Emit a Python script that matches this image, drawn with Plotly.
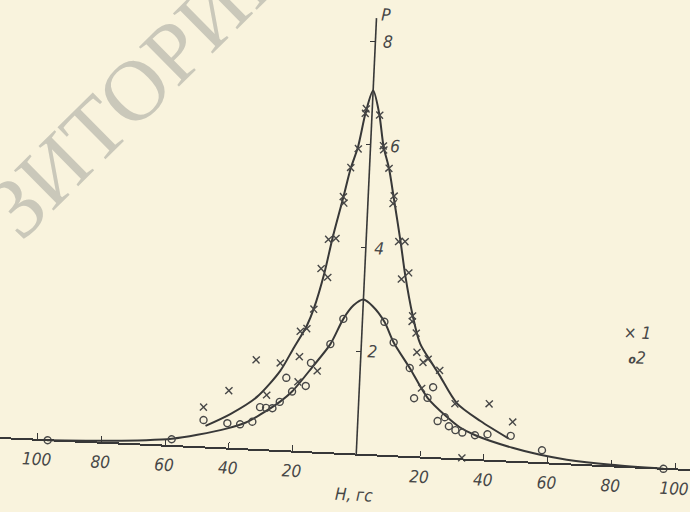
import plotly.graph_objects as go

# ---------------- data ----------------
# series 1 (crosses): field H (гс, signed) and P
cross_H = [-1.9, -2.1, -3.8, -5.9, -7.8, -7.5, -11.8, -9.5, -13.7, -11.5, -15.4,
           -19.3, -17.3, -32.7, -25.1, -19.2, -13.4, -40.8, -28.9, -19.3, -48.5,
           2.4, 4.0, 4.2, 6.1, 8.1, 7.9, 10.2, 12.2, 13.8, 11.6, 15.6, 15.6,
           17.0, 17.5, 19.6, 21.1, 24.9, 19.5, 30.2, 40.9, 48.5, 33.1]
cross_P = [6.69, 6.60, 5.91, 5.54, 4.97, 4.85, 4.13, 4.16, 3.56, 3.40, 2.77,
           2.33, 2.39, 1.74, 1.70, 1.84, 1.58, 1.12, 1.07, 1.35, 0.78,
           6.58, 5.99, 5.91, 5.56, 5.03, 4.88, 4.15, 4.16, 3.56, 3.43, 2.73, 2.62,
           2.40, 2.03, 1.84, 1.91, 1.70, 1.34, 1.07, 1.10, 0.77, 0.03]

# series 2 (circles)
circle_H = [-96.8, -58.0, -48.3, -40.8, -36.8, -33.0, -30.8, -28.9, -26.9, -24.7,
            -23.0, -21.0, -16.8, -15.5, -9.7, -6.0,
            6.9, 10.1, 15.5, 17.3, 21.5, 23.1, 25.0, 27.2, 28.6, 30.7, 32.9,
            36.9, 40.8, 48.1, 58.1, 96.4]
circle_P = [0.0, 0.13, 0.53, 0.49, 0.48, 0.54, 0.83, 0.82, 0.82, 0.95,
            1.42, 1.16, 1.28, 1.73, 2.11, 2.61,
            2.59, 2.20, 1.72, 1.14, 1.16, 1.37, 0.72, 0.80, 0.63, 0.56, 0.52,
            0.48, 0.51, 0.50, 0.25, 0.0]

# drawn curve 1 (through the crosses)
curve1_H = [-47.6, -40.0, -32.0, -25.0, -21.4, -17.3, -15.4, -12.6, -10.6, -7.7,
            -5.9, -3.9, -2.0, 0.0, 2.2, 4.1, 6.1, 8.0, 10.8, 12.7, 15.6, 18.4,
            22.4, 25.0, 30.8, 38.4, 47.4]
curve1_P = [0.42, 0.67, 1.02, 1.55, 1.97, 2.45, 2.78, 3.48, 4.15, 4.98,
            5.52, 5.95, 6.62, 7.05, 6.62, 5.97, 5.56, 5.00, 4.15, 3.52, 2.75, 2.20,
            1.83, 1.60, 1.08, 0.76, 0.45]

# drawn curve 2 (through the circles)
curve2_H = [-97.0, -80.0, -66.0, -58.0, -50.0, -40.7, -35.0, -30.8, -24.7, -21.0,
            -14.9, -9.7, -6.0, -3.0, 0.0, 3.0, 6.9, 10.1, 15.5, 21.5, 27.8, 32.0,
            37.0, 48.8, 57.6, 66.0, 80.0, 96.4]
curve2_P = [0.0, 0.04, 0.09, 0.14, 0.24, 0.39, 0.52, 0.68, 0.95, 1.16,
            1.66, 2.11, 2.61, 2.88, 3.00, 2.88, 2.59, 2.20, 1.72, 1.16, 0.81, 0.62,
            0.48, 0.27, 0.16, 0.09, 0.03, 0.0]

x_tick_vals = [-100, -80, -60, -40, -20, 20, 40, 60, 80, 100]
x_tick_text = ["100", "80", "60", "40", "20", "20", "40", "60", "80", "100"]
y_tick_vals = [2, 4, 6, 8]
y_tick_text = ["2", "4", "6", "8"]
series_names = ["1", "2"]

# ---------------- styling ----------------
BG = "#F9F3DD"
INK = "#383838"
MARK = "#474747"
TXT = "#474747"
FAM = "Liberation Sans Narrow, DejaVu Sans Condensed, Liberation Sans, sans-serif"
FONT = dict(family=FAM, size=17, color=TXT, style="italic")

# the figure is a little larger than the window, so the slight tilt of the
# scanned page (applied below) leaves no empty corners
FIG_W, FIG_H = 760, 580
OFF_X, OFF_Y = 35, 34
X_RANGE = [-125.5, 112.7]
Y_RANGE = [-1.783, 9.435]
P_AXIS_TOP = 8.45
TILT_DEG = 2.66

fig = go.Figure()

fig.add_trace(go.Scatter(x=curve2_H, y=curve2_P, mode="lines",
                         line=dict(color=INK, width=2, shape="spline", smoothing=0.8),
                         showlegend=False, hoverinfo="skip"))
fig.add_trace(go.Scatter(x=curve1_H, y=curve1_P, mode="lines",
                         line=dict(color=INK, width=2, shape="spline", smoothing=0.8),
                         showlegend=False, hoverinfo="skip"))
fig.add_trace(go.Scatter(x=cross_H, y=cross_P, mode="markers", name=series_names[0],
                         marker=dict(symbol="x-thin-open", size=7, color=MARK,
                                     line=dict(width=1.4, color=MARK)),
                         showlegend=False))
fig.add_trace(go.Scatter(x=circle_H, y=circle_P, mode="markers", name=series_names[1],
                         marker=dict(symbol="circle-open", size=7, color=MARK,
                                     line=dict(width=1.4, color=MARK)),
                         showlegend=False))

# vertical P axis line (from the H axis up)
fig.add_shape(type="line", xref="x", yref="y", x0=0, x1=0, y0=0, y1=P_AXIS_TOP,
              line=dict(color=INK, width=1.6), layer="below")

annotations = []
# P tick labels, to the right of the axis
y_label_shift = [11.5, 13.5, 25.0, 12.5]
for v, t, s in zip(y_tick_vals, y_tick_text, y_label_shift):
    annotations.append(dict(x=0, y=v, xref="x", yref="y", text=t, showarrow=False,
                            xshift=s, font=FONT, xanchor="center", yanchor="middle"))
annotations.append(dict(x=0, y=8.52, xref="x", yref="y", text="P", showarrow=False,
                        xshift=10, font=FONT, xanchor="center", yanchor="middle"))
annotations.append(dict(x=0, y=0, xref="x", yref="y", text="H, гс", showarrow=False,
                        yshift=-40, font=FONT, xanchor="center", yanchor="middle"))
# legend keys
annotations.append(dict(x=86.1, y=2.60, xref="x", yref="y",
                        text="× " + series_names[0], showarrow=False, font=FONT,
                        xanchor="center", yanchor="middle"))
annotations.append(dict(x=86.5, y=2.12, xref="x", yref="y",
                        text="<span style='font-size:12px'><b>o</b></span>" + series_names[1],
                        showarrow=False, font=FONT,
                        xanchor="center", yanchor="middle"))
# repository watermark
annotations.append(dict(x=-73.0, y=6.95, xref="x", yref="y",
                        text="ЗИТОРИЙ", showarrow=False, textangle=-47.3,
                        font=dict(family="Liberation Serif, DejaVu Serif, serif",
                                  size=86, color="#CAC8BA"),
                        xanchor="center", yanchor="middle"))

fig.update_layout(
    width=FIG_W, height=FIG_H,
    margin=dict(l=0, r=0, t=0, b=0, pad=0),
    paper_bgcolor=BG, plot_bgcolor=BG,
    showlegend=False,
    annotations=annotations,
    xaxis=dict(range=X_RANGE, anchor="free",
               position=(0 - Y_RANGE[0]) / (Y_RANGE[1] - Y_RANGE[0]),
               showline=True, linecolor=INK, linewidth=1.6,
               ticks="inside", ticklen=6, tickwidth=1.2, tickcolor=INK,
               tickvals=x_tick_vals, ticktext=x_tick_text, tickfont=FONT,
               ticklabelstandoff=4, ticklabeloverflow="allow",
               showgrid=False, zeroline=False, fixedrange=True),
    yaxis=dict(range=Y_RANGE, anchor="free",
               position=(0 - X_RANGE[0]) / (X_RANGE[1] - X_RANGE[0]),
               side="left", showline=False,
               ticks="outside", ticklen=5, tickwidth=1.2, tickcolor=INK,
               tickvals=y_tick_vals, showticklabels=False,
               showgrid=False, zeroline=False, fixedrange=True),
)

post_script = """
var gd = document.getElementById('{plot_id}');
document.documentElement.style.background = '%s';
document.body.style.background = '%s';
document.body.style.margin = '0';
document.body.style.overflow = 'hidden';
gd.style.position = 'relative';
gd.style.left = '-%dpx';
gd.style.top = '-%dpx';
gd.style.transformOrigin = '50%% 50%%';
gd.style.transform = 'rotate(%.2fdeg)';
""" % (BG, BG, OFF_X, OFF_Y, TILT_DEG)

fig.write_html("out.html", post_script=post_script, config={"displayModeBar": False})
